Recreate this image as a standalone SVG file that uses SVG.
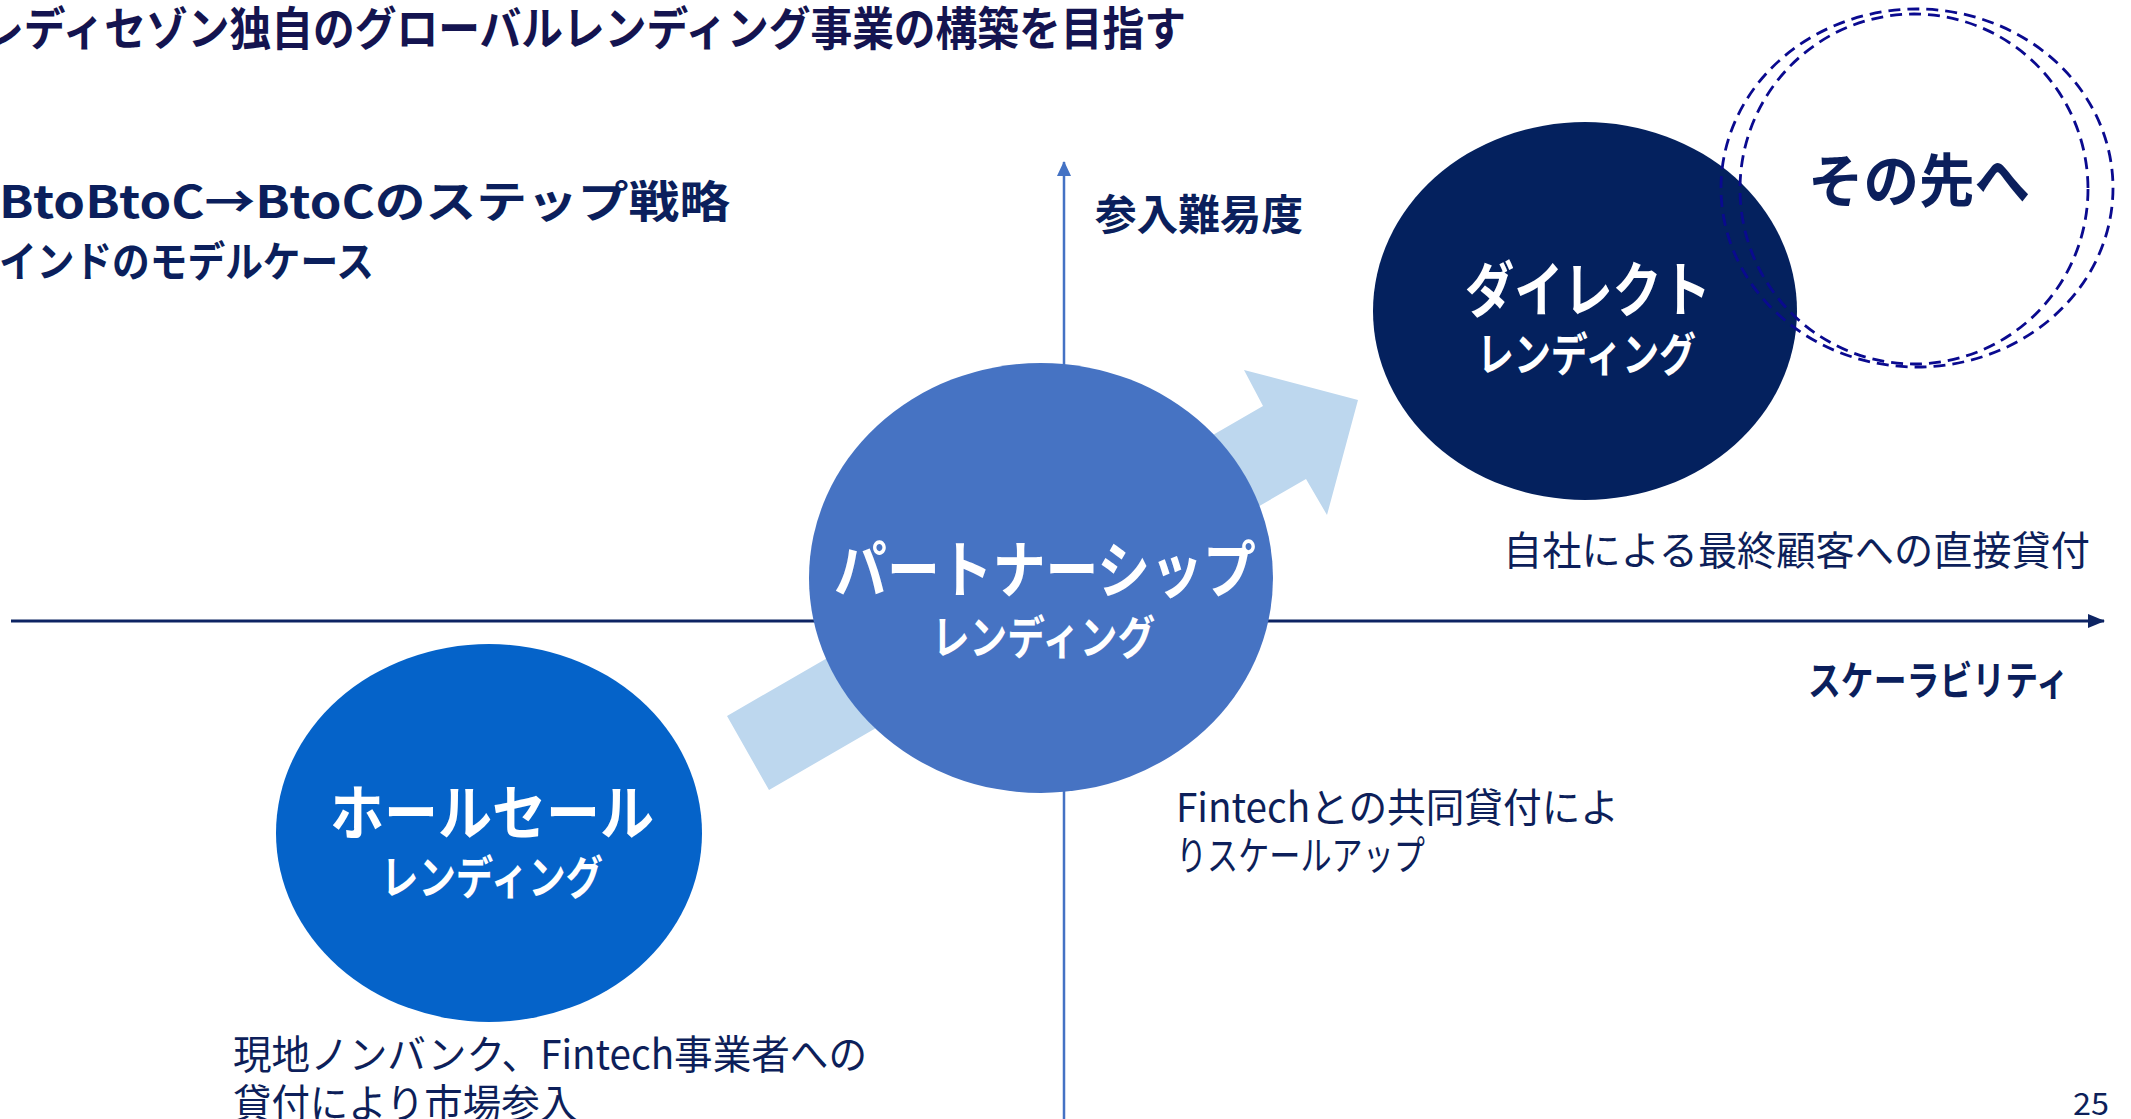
<svg xmlns="http://www.w3.org/2000/svg" width="2131" height="1119" viewBox="0 0 2131 1119">
<style>
.jp{font-family:"Noto Sans CJK JP","Noto Sans",sans-serif}
.b{font-weight:700}
.hd{fill:#0b1f5c}
.tx{fill:#0d1f5a;font-weight:400}
.w{fill:#ffffff;font-weight:700}
text{dominant-baseline:central}
.dash{fill:none;stroke:#0a0a8f;stroke-width:2.8;stroke-dasharray:12 7}
</style>
<defs>
<marker id="ah-v" markerWidth="16" markerHeight="16" refX="14" refY="7" orient="auto" markerUnits="userSpaceOnUse">
<path d="M0,0 L15,7 L0,14 Z" fill="#4472C4"/>
</marker>
<marker id="ah-h" markerWidth="18" markerHeight="16" refX="16" refY="7" orient="auto" markerUnits="userSpaceOnUse">
<path d="M0,0 L17,7 L0,14 Z" fill="#0d2463"/>
</marker>
</defs>
<rect width="2131" height="1119" fill="#ffffff"/>

<g id="headings" class="jp">
<text x="-18" y="25" class="b" fill="#141450" font-size="46" textLength="1204" lengthAdjust="spacingAndGlyphs">レディセゾン独自のグローバルレンディング事業の構築を目指す</text>
<text x="-1" y="199" class="b hd" font-size="44" textLength="731" lengthAdjust="spacingAndGlyphs">BtoBtoC→BtoCのステップ戦略</text>
<text x="-1" y="258" class="b hd" font-size="42" textLength="375" lengthAdjust="spacingAndGlyphs">インドのモデルケース</text>
</g>

<g id="connectors">
<line x1="1064" y1="1119" x2="1064" y2="162" stroke="#4472C4" stroke-width="2.5" marker-end="url(#ah-v)"/>
<line x1="11" y1="621" x2="2104" y2="621" stroke="#0d2463" stroke-width="3" marker-end="url(#ah-h)"/>
<polygon id="growth-arrow" points="727,716 1263,406 1244,370 1358,400 1327,515 1306,479 769,790" fill="#BDD7EE"/>
</g>

<g id="axis-labels" class="jp">
<text x="1095" y="211" class="b hd" font-size="42" textLength="208" lengthAdjust="spacingAndGlyphs">参入難易度</text>
<text x="1808" y="678" class="b hd" font-size="40" textLength="261" lengthAdjust="spacingAndGlyphs">スケーラビリティ</text>
</g>

<g id="node-wholesale" class="jp">
<ellipse cx="489" cy="833" rx="213" ry="189" fill="#0563C9"/>
<text x="330" y="808" class="w" font-size="60" textLength="324" lengthAdjust="spacingAndGlyphs">ホールセール</text>
<text x="381" y="874" class="w" font-size="46" textLength="222" lengthAdjust="spacingAndGlyphs">レンディング</text>
<text x="233" y="1052" class="tx" font-size="40" textLength="634" lengthAdjust="spacingAndGlyphs">現地ノンバンク、Fintech事業者への</text>
<text x="233" y="1101" class="tx" font-size="40" textLength="345" lengthAdjust="spacingAndGlyphs">貸付により市場参入</text>
</g>

<g id="node-partnership" class="jp">
<ellipse cx="1041" cy="578" rx="232" ry="215" fill="#4673C3"/>
<text x="834" y="566" class="w" font-size="62" textLength="422" lengthAdjust="spacingAndGlyphs">パートナーシップ</text>
<text x="932" y="634" class="w" font-size="46" textLength="223" lengthAdjust="spacingAndGlyphs">レンディング</text>
<text x="1176" y="805" class="tx" font-size="40" textLength="443" lengthAdjust="spacingAndGlyphs">Fintechとの共同貸付によ</text>
<text x="1176" y="853" class="tx" font-size="40" textLength="249" lengthAdjust="spacingAndGlyphs">りスケールアップ</text>
</g>

<g id="node-direct" class="jp">
<ellipse cx="1585" cy="311" rx="212" ry="189" fill="#04215E"/>
<text x="1465" y="285" class="w" font-size="60" textLength="246" lengthAdjust="spacingAndGlyphs">ダイレクト</text>
<text x="1477" y="351" class="w" font-size="46" textLength="219" lengthAdjust="spacingAndGlyphs">レンディング</text>
<text x="1503" y="548" class="tx" font-size="40" textLength="587" lengthAdjust="spacingAndGlyphs">自社による最終顧客への直接貸付</text>
</g>

<g id="node-beyond" class="jp">
<ellipse class="dash" cx="1917" cy="188" rx="196" ry="179"/>
<ellipse class="dash" cx="1914" cy="189" rx="174" ry="175"/>
<text x="1808" y="177" class="b hd" font-size="58" textLength="222" lengthAdjust="spacingAndGlyphs">その先へ</text>
</g>

<g id="page-number" class="jp">
<text x="2073" y="1102" class="tx" font-size="30" textLength="36" lengthAdjust="spacingAndGlyphs">25</text>
</g>
</svg>
